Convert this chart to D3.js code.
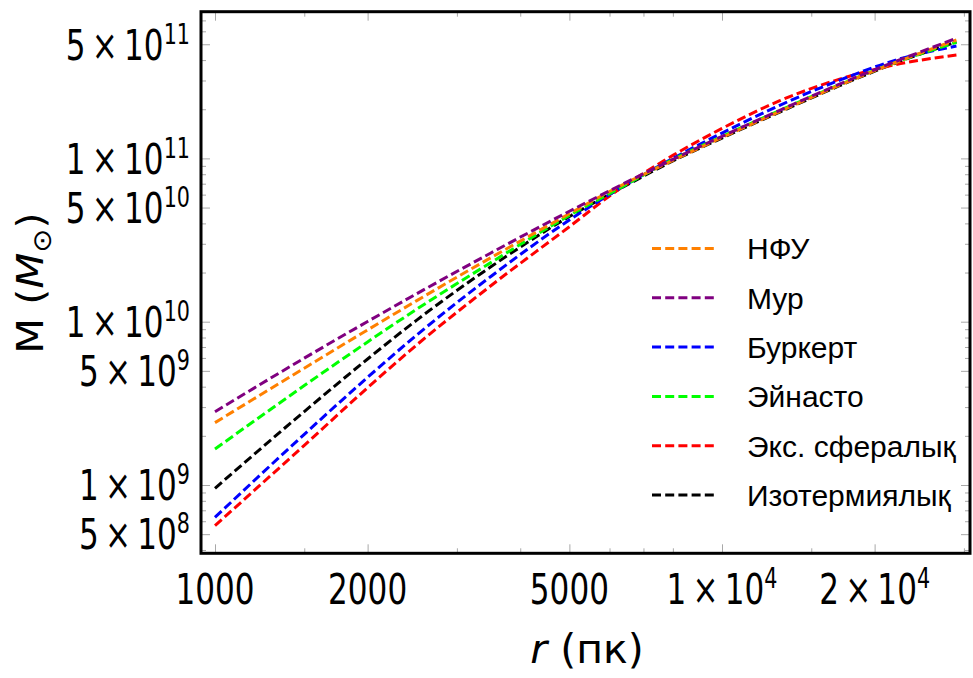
<!DOCTYPE html>
<html>
<head>
<meta charset="utf-8">
<script src="https://cdn.jsdelivr.net/npm/d3@7"></script>
<style>
  body { margin: 0; background: #ffffff; }
  svg { display: block; }
</style>
</head>
<body>
<svg id="chart" width="973" height="678"></svg>
<script>
// Enclosed dark-matter mass M(r) for six halo profiles (log-log)
const radii = [1000, 1500, 2000, 2500, 3500, 5000, 6000, 8000, 10000, 13000, 17000, 22000, 29000];

const massNFW      = [2.41e9, 5.19e9, 8.91e9, 1.346e10, 2.465e10, 4.586e10, 6.27e10, 9.71e10, 1.343e11, 1.937e11, 2.796e11, 3.867e11, 5.309e11];
const massMoore    = [2.81e9, 5.98e9, 1.003e10, 1.484e10, 2.635e10, 4.744e10, 6.333e10, 9.86e10, 1.365e11, 1.970e11, 2.836e11, 3.921e11, 5.438e11];
const massBurkert  = [6.34e8, 2.044e9, 4.565e9, 8.29e9, 1.892e10, 4.195e10, 6.01e10, 9.99e10, 1.430e11, 2.115e11, 2.999e11, 3.999e11, 4.873e11];
const massEinasto  = [1.661e9, 4.062e9, 7.52e9, 1.193e10, 2.301e10, 4.476e10, 6.08e10, 9.85e10, 1.362e11, 1.965e11, 2.816e11, 3.867e11, 5.14e11];
const massExpSph   = [5.64e8, 1.750e9, 3.944e9, 7.21e9, 1.661e10, 3.818e10, 5.886e10, 1.043e11, 1.526e11, 2.256e11, 3.047e11, 3.749e11, 4.298e11];
const massIso      = [9.55e8, 2.818e9, 5.911e9, 1.023e10, 2.169e10, 4.407e10, 6.02e10, 9.64e10, 1.333e11, 1.923e11, 2.776e11, 3.839e11, 5.162e11];

const seriesNames  = ["НФУ", "Мур", "Буркерт", "Эйнасто", "Экс. сфералық", "Изотермиялық"];
const seriesColors = ["#ff8000", "#800080", "#0000ff", "#00ff00", "#ff0000", "#000000"];
const seriesMasses = [massNFW, massMoore, massBurkert, massEinasto, massExpSph, massIso];
// drawing order (later on top)
const drawOrder = [5, 4, 2, 3, 0, 1];

const xMajorTicks   = [1000, 2000, 5000, 10000, 20000];
const xTickMantissa = ["1000", "2000", "5000", "1\u2009×\u200910", "2\u2009×\u200910"];
const xTickPower    = ["", "", "", "4", "4"];
const xMinorTicks   = [1500, 3000, 4000, 6000, 7000, 8000, 15000, 30000];

const yMajorTicks   = [5e8, 1e9, 5e9, 1e10, 5e10, 1e11, 5e11];
const yTickMantissa = ["5\u2009×\u200910", "1\u2009×\u200910", "5\u2009×\u200910", "1\u2009×\u200910", "5\u2009×\u200910", "1\u2009×\u200910", "5\u2009×\u200910"];
const yTickPower    = ["8", "9", "9", "10", "10", "11", "11"];
const yMinorTicks   = [4e8, 6e8, 7e8, 8e8, 9e8,
                       2e9, 3e9, 4e9, 6e9, 7e9, 8e9, 9e9,
                       2e10, 3e10, 4e10, 6e10, 7e10, 8e10, 9e10,
                       2e11, 3e11, 4e11, 6e11, 7e11];

const svg = d3.select("#chart");

// frame box
const frame = { left: 201, right: 970, top: 11.7, bottom: 553.3 };

const x = d3.scaleLog().domain([1000, 10000]).range([215, 722]);
const y = d3.scaleLog().domain([1e9, 1e11]).range([485, 158.4]);

// ---- ticks on all four sides (inward), drawn with d3 axes ----
function tickAxis(axisFn, scale, values, size, tx, ty) {
  const g = svg.append("g")
    .attr("transform", `translate(${tx},${ty})`)
    .call(axisFn(scale).tickValues(values).tickSize(size).tickFormat(""));
  g.select(".domain").remove();
  g.selectAll(".tick line").attr("stroke", "#a8a8a8").attr("stroke-width", 1);
  return g;
}
tickAxis(d3.axisBottom, x, xMajorTicks, -9, 0, frame.bottom);
tickAxis(d3.axisBottom, x, xMinorTicks, -5, 0, frame.bottom);
tickAxis(d3.axisTop, x, xMajorTicks, -9, 0, frame.top);
tickAxis(d3.axisTop, x, xMinorTicks, -5, 0, frame.top);
tickAxis(d3.axisLeft, y, yMajorTicks, -9, frame.left, 0);
tickAxis(d3.axisLeft, y, yMinorTicks.filter(v => y(v) > frame.top + 2 && y(v) < frame.bottom - 2), -5, frame.left, 0);
tickAxis(d3.axisRight, y, yMajorTicks, -9, frame.right, 0);
tickAxis(d3.axisRight, y, yMinorTicks.filter(v => y(v) > frame.top + 2 && y(v) < frame.bottom - 2), -5, frame.right, 0);

// ---- curves ----
svg.append("defs").append("clipPath").attr("id", "plotClip")
  .append("rect")
  .attr("x", frame.left).attr("y", frame.top)
  .attr("width", frame.right - frame.left).attr("height", frame.bottom - frame.top);

const line = d3.line()
  .x(d => x(d[0]))
  .y(d => y(d[1]))
  .curve(d3.curveMonotoneX);

const curves = svg.append("g").attr("clip-path", "url(#plotClip)");
drawOrder.forEach(i => {
  const pts = radii.map((r, k) => [r, seriesMasses[i][k]]);
  curves.append("path")
    .attr("d", line(pts))
    .attr("fill", "none")
    .attr("stroke", seriesColors[i])
    .attr("stroke-width", 3)
    .attr("stroke-dasharray", "9,4");
});

// ---- frame ----
svg.append("rect")
  .attr("x", frame.left).attr("y", frame.top)
  .attr("width", frame.right - frame.left).attr("height", frame.bottom - frame.top)
  .attr("fill", "none").attr("stroke", "#000").attr("stroke-width", 3);

// ---- tick labels ----
const tickFont = "'DejaVu Sans', sans-serif";
function powerLabel(px, py, anchor, mant, pow) {
  const t = svg.append("text")
    .attr("transform", `translate(${px},${py}) scale(0.74,1)`)
    .attr("text-anchor", anchor)
    .attr("font-family", tickFont)
    .attr("font-size", 42)
    .attr("fill", "#000");
  t.append("tspan").text(mant);
  if (pow) {
    t.append("tspan").attr("font-size", 28).attr("dy", -16).text(pow);
  }
}
xMajorTicks.forEach((v, i) => powerLabel(x(v), 604, "middle", xTickMantissa[i], xTickPower[i]));
yMajorTicks.forEach((v, i) => powerLabel(190, y(v) + 15.3, "end", yTickMantissa[i], yTickPower[i]));

// ---- axis titles ----
const xTitle = svg.append("text")
  .attr("x", 587).attr("y", 663)
  .attr("text-anchor", "middle")
  .attr("font-family", tickFont)
  .attr("font-size", 41)
  .attr("fill", "#000");
xTitle.append("tspan").attr("font-style", "italic").text("r");
xTitle.append("tspan").text(" (пк)");

const yTitle = svg.append("text")
  .attr("transform", "translate(43,283) rotate(-90) scale(1.12,1)")
  .attr("text-anchor", "middle")
  .attr("font-family", tickFont)
  .attr("font-size", 37)
  .attr("fill", "#000");
yTitle.append("tspan").text("M (");
yTitle.append("tspan").attr("font-style", "italic").text("M");
yTitle.append("tspan").attr("font-size", 26).attr("dy", 8).text("⊙");
yTitle.append("tspan").attr("dy", -8).text(")");

// ---- legend ----
const legend = svg.append("g");
seriesNames.forEach((name, i) => {
  const cy = 248.5 + i * 49.3;
  legend.append("line")
    .attr("x1", 652).attr("x2", 714)
    .attr("y1", cy).attr("y2", cy)
    .attr("stroke", seriesColors[i])
    .attr("stroke-width", 3)
    .attr("stroke-dasharray", "9,4.2");
  legend.append("text")
    .attr("x", 747).attr("y", cy + 10.8)
    .attr("font-family", "'Liberation Sans', Arial, sans-serif")
    .attr("font-size", 30)
    .attr("fill", "#000")
    .text(name);
});
</script>
</body>
</html>
